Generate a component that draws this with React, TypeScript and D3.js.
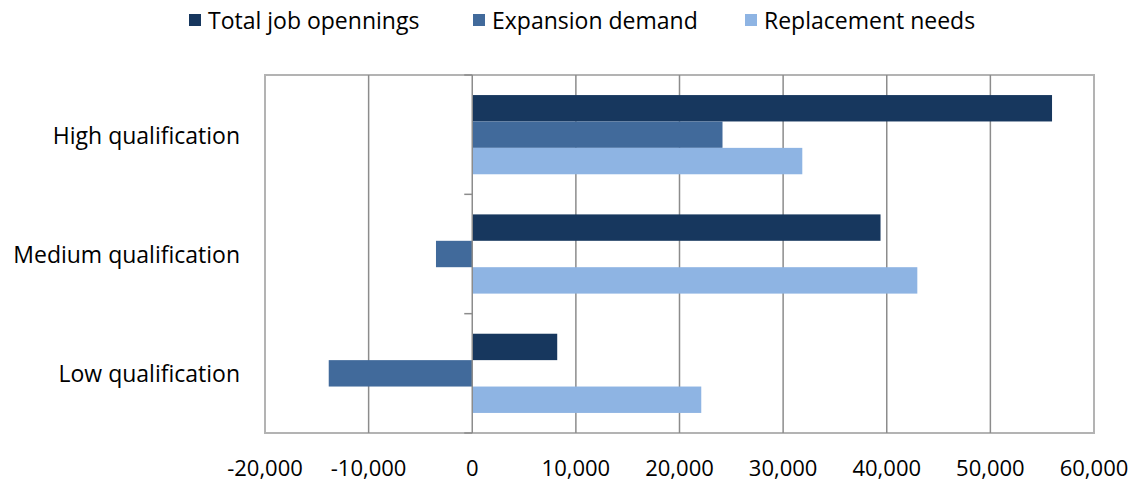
import * as d3 from 'd3';

const categories = ['High qualification', 'Medium qualification', 'Low qualification'];
const seriesNames = ['Total job opennings', 'Expansion demand', 'Replacement needs'];
const totalOpenings = [55950, 39400, 8200];
const expansionDemand = [24150, -3500, -13850];
const replacementNeeds = [31850, 42950, 22100];
const xTicks = [-20000, -10000, 0, 10000, 20000, 30000, 40000, 50000, 60000];

const COLORS = ['#17375e', '#416a9b', '#8eb4e3'];
const FONT = '"Open Sans", "Liberation Sans", sans-serif';

export default function App() {
  const margin = { left: 265, right: 1094, top: 75, bottom: 433 };
  const series = [totalOpenings, expansionDemand, replacementNeeds];

  const x = d3.scaleLinear().domain([-20000, 60000]).range([margin.left, margin.right]);
  const y = d3.scaleBand().domain(categories).range([margin.top, margin.bottom]);
  const inner = d3
    .scaleBand<number>()
    .domain([0, 1, 2])
    .range([0, y.bandwidth()])
    .paddingOuter(0.76)
    .paddingInner(0);

  // hyphen rather than unicode minus, like the original
  const fmt = (v: number) => d3.format(',')(v).replace('\u2212', '-');
  const boundaries = [margin.top, ...categories.map((c) => y(c)! + y.bandwidth())];
  const legendX = [189, 473, 745];

  return (
    <svg width={1136} height={481} style={{ position: 'absolute', left: 0, top: 0 }} fontFamily={FONT}>
      <rect width={1136} height={481} fill="#fff" />

      {/* legend */}
      {seriesNames.map((name, i) => (
        <g key={name}>
          <rect x={legendX[i]} y={14} width={12} height={12} fill={COLORS[i]} />
          <text x={legendX[i] + 19} y={20} dominantBaseline="central" fontSize={23} fill="#000">
            {name}
          </text>
        </g>
      ))}

      {/* frame */}
      <rect
        x={margin.left}
        y={margin.top}
        width={margin.right - margin.left}
        height={margin.bottom - margin.top}
        fill="none"
        stroke="#b3b3b3"
        strokeWidth={2}
      />

      {/* gridlines */}
      {xTicks
        .filter((t) => t !== 0 && t !== -20000 && t !== 60000)
        .map((t) => (
          <line key={t} x1={x(t)} x2={x(t)} y1={margin.top} y2={margin.bottom} stroke="#8c8c8c" strokeWidth={1.5} />
        ))}

      {/* bars */}
      {categories.map((c, ci) =>
        series.map((vals, si) => {
          const v = vals[ci];
          const x0 = x(Math.min(0, v));
          const x1 = x(Math.max(0, v));
          return (
            <rect
              key={c + si}
              x={x0}
              y={y(c)! + inner(si)!}
              width={x1 - x0}
              height={inner.bandwidth()}
              fill={COLORS[si]}
            />
          );
        })
      )}

      {/* zero axis */}
      <line x1={x(0)} x2={x(0)} y1={margin.top} y2={margin.bottom} stroke="#8c8c8c" strokeWidth={1.5} />
      {boundaries.map((b, i) => (
        <line key={i} x1={x(0) - 8} x2={x(0)} y1={b} y2={b} stroke="#8c8c8c" strokeWidth={1.5} />
      ))}

      {/* category labels */}
      {categories.map((c) => (
        <text
          key={c}
          x={240}
          y={y(c)! + y.bandwidth() / 2}
          textAnchor="end"
          dominantBaseline="central"
          fontSize={23}
          fill="#000"
        >
          {c}
        </text>
      ))}

      {/* x tick labels */}
      {xTicks.map((t) => (
        <text key={t} x={x(t)} y={467} textAnchor="middle" dominantBaseline="central" fontSize={22} fill="#000">
          {fmt(t)}
        </text>
      ))}
    </svg>
  );
}
